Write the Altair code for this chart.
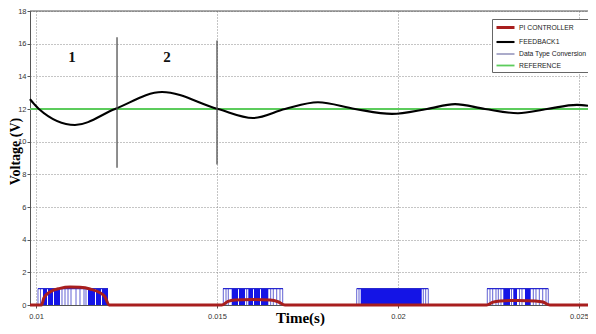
import altair as alt
import pandas as pd

# ---------------- data (time in ms; axis labelled in seconds) ----------------
SERIES = ["PI CONTROLLER", "FEEDBACK1", "Data Type Conversion", "REFERENCE"]
SERIES_COLORS = ["#a81e1e", "#000000", "#7272a6", "#5ccc5c"]
SERIES_WIDTHS = [3.0, 2.1, 1.2, 1.8]

X_TICKS = [10, 15, 20, 25]
Y_TICKS = [0, 2, 4, 6, 8, 10, 12, 14, 16, 18]
X_DOMAIN = [9.834, 25.249]
Y_DOMAIN = [0, 18]

fb_t = [9.834, 9.95, 10.08, 11.077, 12.182, 13.481, 15.028, 15.994, 16.878, 17.790,
        18.812, 19.834, 20.801, 21.575, 22.403, 23.315, 24.116, 24.945, 25.249]
fb_v = [12.6, 12.3, 12.0, 11.02, 12.0, 13.04, 12.0, 11.45, 12.0, 12.41,
        12.0, 11.7, 12.0, 12.3, 12.0, 11.74, 12.0, 12.25, 12.2]

pi_t = [9.834, 10.152, 10.221, 10.387, 10.663, 10.939, 11.215, 11.492, 11.768, 11.906, 12.017,
        15.13, 15.304, 15.497, 15.994, 16.464, 16.685, 16.878,
        22.45, 22.624, 22.818, 23.315, 23.785, 24.005, 24.199, 25.249]
pi_v = [0, 0, 0.45, 0.8, 1.02, 1.1, 1.08, 0.98, 0.75, 0.5, 0,
        0, 0.22, 0.3, 0.33, 0.3, 0.2, 0,
        0, 0.18, 0.25, 0.28, 0.25, 0.18, 0, 0]

ref_t = [9.834, 25.249]
ref_v = [12, 12]

# Data Type Conversion (PWM bursts between 0 and 1)
dtc_span_start = [10.055, 15.166, 18.859, 22.459]
dtc_span_end = [11.989, 16.823, 20.837, 24.152]
dtc_block_start = [10.193, 10.331, 10.497, 11.436, 11.657, 11.823,
                   15.406, 15.608, 15.865, 16.022, 16.215,
                   18.970, 22.909, 23.185, 23.508]
dtc_block_end = [10.304, 10.470, 10.663, 11.630, 11.796, 11.989,
                 15.580, 15.773, 15.994, 16.188, 16.417,
                 20.655, 23.094, 23.287, 23.666]
dtc_edges = [10.055, 10.124, 10.718, 10.801, 10.884, 10.967, 11.105, 11.215, 11.326, 11.381,
             15.174, 15.249, 15.312, 15.820, 16.483, 16.555, 16.649, 16.740, 16.815,
             18.859, 18.923, 20.699, 20.765, 20.837,
             22.467, 22.541, 22.616, 22.707, 22.771, 22.845, 23.135, 23.356, 23.425,
             23.738, 23.812, 23.904, 23.998, 24.089, 24.152]

marker_t = [12.238, 15.0]
marker_lo = [8.4, 8.6]
marker_hi = [16.4, 16.2]

zone_t = [10.994, 13.619]
zone_v = [15.2, 15.2]
zone_txt = ["1", "2"]

# ---------------- frames ----------------
fb_df = pd.DataFrame({"t": fb_t, "v": fb_v, "series": "FEEDBACK1"})
pi_df = pd.DataFrame({"t": pi_t, "v": pi_v, "series": "PI CONTROLLER"})
ref_df = pd.DataFrame({"t": ref_t, "v": ref_v, "series": "REFERENCE"})
span_df = pd.DataFrame({"t": dtc_span_start, "t2": dtc_span_end, "v": [1] * len(dtc_span_start)})
block_df = pd.DataFrame({"t": dtc_block_start, "t2": dtc_block_end,
                         "v": [0] * len(dtc_block_start), "v2": [1] * len(dtc_block_start)})
edge_df = pd.DataFrame({"t": dtc_edges, "v": [0] * len(dtc_edges), "v2": [1] * len(dtc_edges)})
marker_df = pd.DataFrame({"t": marker_t, "v": marker_lo, "v2": marker_hi})
zone_df = pd.DataFrame({"t": zone_t, "v": zone_v, "txt": zone_txt})
top_df = pd.DataFrame({"v": [Y_DOMAIN[1]]})

NARROW = "Liberation Sans Narrow, Liberation Sans, Arial, sans-serif"
SERIF = "Liberation Serif, Times New Roman, serif"

xaxis = alt.Axis(values=X_TICKS, labelExpr="toString(datum.value/1000)", grid=True,
                 gridDash=[1, 2], gridColor="#8a8a8a", domainColor="#555555",
                 tickColor="#555555", tickSize=3, labelFont=NARROW, labelFontSize=7.5,
                 labelColor="#333333", labelPadding=4, labelFlush=False,
                 titleFont=SERIF, titleFontWeight="bold", titleFontSize=15,
                 titleColor="#000000", titleX=270, titleY=20, titleBaseline="bottom",
                 titleAlign="center")
yaxis = alt.Axis(values=Y_TICKS, grid=True, gridDash=[1, 2], gridColor="#8a8a8a",
                 domainColor="#555555", tickColor="#555555", tickSize=3,
                 labelFont=NARROW, labelFontSize=7.5, labelColor="#333333", labelPadding=1,
                 titleFont=SERIF, titleFontWeight="bold", titleFontSize=14,
                 titleColor="#000000", titleAngle=270, titleX=-15, titleY=140,
                 titleAlign="center", titleBaseline="middle")

xs = alt.Scale(domain=X_DOMAIN, nice=False, zero=False)
ys = alt.Scale(domain=Y_DOMAIN, nice=False, zero=False)
X = alt.X("t:Q", scale=xs, axis=xaxis, title="Time(s)")
Y = alt.Y("v:Q", scale=ys, axis=yaxis, title="Voltage (V)")

leg = alt.Legend(title=None, orient="none", legendX=462, legendY=8,
                 symbolType="M-1.8,0H1.8", symbolSize=100, labelFont=NARROW,
                 labelFontSize=6.8, labelColor="#222222", strokeColor="#666666",
                 fillColor="#ffffff", padding=2, rowPadding=1.5, labelOffset=7,
                 symbolOffset=5)
COLOR = alt.Color("series:N", scale=alt.Scale(domain=SERIES, range=SERIES_COLORS), legend=leg)
WIDTH = alt.StrokeWidth("series:N", scale=alt.Scale(domain=SERIES, range=SERIES_WIDTHS, type="ordinal"), legend=leg)

blocks = alt.Chart(block_df).mark_rect(color="#1414e6").encode(x=X, x2="t2:Q", y=Y, y2="v2:Q")
edges = alt.Chart(edge_df).mark_rule(color="#3c3cc8", strokeWidth=1, opacity=0.8).encode(x=X, y=Y, y2="v2:Q")
tops = alt.Chart(span_df).mark_rule(color="#2828d0", strokeWidth=1.2).encode(x=X, x2="t2:Q", y=Y)
pi_line = alt.Chart(pi_df).mark_line(interpolate="monotone").encode(x=X, y=Y, color=COLOR, strokeWidth=WIDTH)
ref_line = alt.Chart(ref_df).mark_line().encode(x=X, y=Y, color=COLOR, strokeWidth=WIDTH)
fb_line = alt.Chart(fb_df).mark_line(interpolate="monotone").encode(x=X, y=Y, color=COLOR, strokeWidth=WIDTH)
markers = alt.Chart(marker_df).mark_rule(color="#505050", strokeWidth=1.3).encode(x=X, y=Y, y2="v2:Q")
zones = alt.Chart(zone_df).mark_text(font=SERIF, fontWeight="bold", fontSize=15, color="#111111").encode(x=X, y=Y, text="txt:N")
top_border = alt.Chart(top_df).mark_rule(color="#555555", strokeWidth=1).encode(y=Y)

chart = alt.layer(blocks, edges, tops, pi_line, ref_line, fb_line, markers, zones, top_border).properties(
    width=558, height=294,
    autosize=alt.AutoSizeParams(type="none"),
    padding={"left": 22, "top": 3, "right": 0, "bottom": 21},
).configure_view(stroke=None)

chart.save("out.html", embed_options={"renderer": "svg", "actions": False})
